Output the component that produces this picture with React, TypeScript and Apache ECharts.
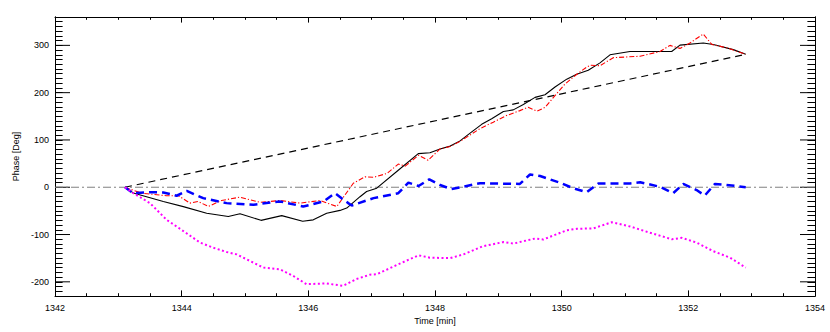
import React, { useEffect, useRef } from "react";
import * as echarts from "echarts";

const blackSolid: [number, number][] = [
  [1343.105, 0], [1343.236, -12], [1343.71, -30], [1344.026, -41], [1344.395, -55],
  [1344.736, -62], [1344.921, -56], [1345.253, -70], [1345.58, -60], [1345.911, -72],
  [1346.078, -69], [1346.29, -55], [1346.5, -49], [1346.606, -44], [1346.816, -20],
  [1346.92, -9], [1347.08, -2], [1347.42, 36], [1347.736, 71], [1347.92, 73],
  [1348.08, 81], [1348.24, 87], [1348.395, 98], [1348.58, 117], [1348.737, 133],
  [1348.895, 145], [1349.08, 160], [1349.236, 163.6], [1349.395, 175], [1349.58, 190],
  [1349.737, 195.7], [1349.895, 212], [1350.08, 228.6], [1350.237, 239], [1350.42, 247.5],
  [1350.605, 263], [1350.763, 280], [1351.079, 287], [1351.737, 287], [1351.868, 300.6],
  [1352.236, 305], [1352.394, 302], [1352.71, 291], [1352.906, 281],
];

const redDashDot: [number, number][] = [
  [1343.105, 0], [1343.37, -12.6], [1343.76, -18], [1343.95, -18], [1344.13, -33.6],
  [1344.26, -30], [1344.42, -40.7], [1344.63, -28], [1344.92, -21], [1345.24, -32],
  [1345.55, -28], [1345.87, -33.6], [1346.18, -28], [1346.45, -40.7], [1346.71, 8.4],
  [1346.895, 22], [1347.03, 21], [1347.24, 29], [1347.42, 49], [1347.53, 44.7],
  [1347.74, 67.7], [1347.89, 57], [1348.08, 81], [1348.24, 86], [1348.395, 97],
  [1348.55, 110], [1348.71, 124], [1348.92, 137.6], [1349.13, 151.6], [1349.34, 162],
  [1349.47, 169], [1349.61, 160.7], [1349.74, 169], [1349.87, 190], [1350.05, 218],
  [1350.24, 239], [1350.395, 254], [1350.45, 258], [1350.605, 257], [1350.815, 274],
  [1351.237, 277], [1351.553, 287], [1351.71, 300], [1351.868, 293.6], [1352.026, 305],
  [1352.236, 324], [1352.37, 302], [1352.606, 295], [1352.906, 281],
];

const blueDashed: [number, number][] = [
  [1343.105, 0], [1343.236, -12.6], [1343.5, -10.5], [1343.71, -11], [1343.92, -18],
  [1344.08, -7.8], [1344.34, -23], [1344.71, -33.6], [1345.13, -37], [1345.55, -30],
  [1345.92, -40.7], [1346.24, -30], [1346.42, -12.6], [1346.63, -33.6], [1346.685, -38.6],
  [1347.03, -23], [1347.42, -12.6], [1347.58, 9.7], [1347.74, 2.7], [1347.91, 16.8],
  [1348.08, 4.8], [1348.26, -4], [1348.5, 2.7], [1348.71, 8.4], [1349.08, 7.6],
  [1349.34, 7], [1349.5, 27], [1349.66, 23.7], [1349.97, 9.7], [1350.18, -2],
  [1350.395, -10.6], [1350.58, 8], [1351.08, 8], [1351.24, 10.5], [1351.55, 1],
  [1351.76, -12.6], [1351.92, 7], [1352.13, -6], [1352.26, -17.6], [1352.42, 7],
  [1352.6, 5], [1352.906, 0],
];

const magentaDotted: [number, number][] = [
  [1343.105, 0], [1343.236, -12.6], [1343.5, -33.6], [1343.76, -68.6], [1344.03, -93],
  [1344.29, -117], [1344.5, -128], [1344.71, -137], [1344.87, -142], [1345.08, -156],
  [1345.29, -170], [1345.55, -173.5], [1345.76, -187.5], [1345.97, -205], [1346.29, -203.5],
  [1346.55, -208.5], [1346.76, -194], [1346.97, -185], [1347.08, -184], [1347.42, -163],
  [1347.74, -144], [1347.92, -149], [1348.24, -150], [1348.45, -142], [1348.76, -124.6],
  [1349.08, -116], [1349.24, -119], [1349.58, -108.5], [1349.71, -110.5], [1350.08, -91],
  [1350.24, -88], [1350.5, -87], [1350.79, -74], [1351.08, -83], [1351.39, -96],
  [1351.74, -110], [1351.9, -107], [1352.13, -117], [1352.39, -135], [1352.66, -149],
  [1352.906, -170],
];

const blackDashed: [number, number][] = [
  [1343.105, 0], [1352.906, 281],
];

const zeroLine: [number, number][] = [
  [1342, 0], [1354, 0],
];

const yMajorTicks = [-200, -100, 0, 100, 200, 300];

const X_MIN = 1342;
const X_MAX = 1354;
const Y_MIN = -230;
const Y_MAX = 360;

export default function App() {
  const ref = useRef<HTMLDivElement>(null);
  useEffect(() => {
    if (!ref.current) return;
    const chart = echarts.init(ref.current, undefined, { renderer: "svg" });
    const font = "Liberation Sans, Arial, sans-serif";
    const axisLine = { show: true, onZero: false, lineStyle: { color: "#000", width: 1 } };
    const xCommon = {
      type: "value",
      min: X_MIN,
      max: X_MAX,
      interval: 2,
      splitLine: { show: false },
      axisLine,
      axisTick: { show: true, inside: true, length: 5.6, lineStyle: { color: "#000" } },
      minorTick: { show: true, splitNumber: 4, length: 2.8, lineStyle: { color: "#000" } },
    };
    const yMajor = (pos: string, showLabel: boolean) => ({
      type: "value",
      position: pos,
      min: Y_MIN,
      max: Y_MAX,
      splitNumber: 6,
      splitLine: { show: false },
      axisLine,
      axisTick: { show: false },
      axisLabel: showLabel
        ? {
            show: true, showMinLabel: false, showMaxLabel: false,
            color: "#000", fontSize: 9, fontFamily: font, margin: 6,
          }
        : { show: false },
      ...(showLabel
        ? {
            name: "Phase [Deg]",
            nameLocation: "middle",
            nameGap: 33,
            nameTextStyle: { color: "#000", fontSize: 9, fontFamily: font },
          }
        : {}),
    });
    const yMinor = (pos: string) => ({
      type: "value",
      position: pos,
      min: Y_MIN,
      max: Y_MAX,
      interval: 10,
      splitLine: { show: false },
      axisLine,
      axisTick: { show: true, inside: true, length: 7.6, lineStyle: { color: "#000" } },
      axisLabel: { show: false },
    });
    const majorTickData = yMajorTicks.map((v) => [X_MIN, v]);
    chart.setOption({
      animation: false,
      backgroundColor: "#fff",
      grid: { left: 55, right: 15, top: 17, bottom: 36, containLabel: false },
      xAxis: [
        {
          ...xCommon,
          position: "bottom",
          axisLabel: {
            show: true, color: "#000", fontSize: 9, fontFamily: font, margin: 7,
            formatter: (v: number) => String(v),
          },
          name: "Time [min]",
          nameLocation: "middle",
          nameGap: 18,
          nameTextStyle: { color: "#000", fontSize: 9, fontFamily: font },
        },
        { ...xCommon, position: "top", axisLabel: { show: false } },
      ],
      yAxis: [yMajor("left", true), yMinor("left"), yMajor("right", false), yMinor("right")],
      series: [
        {
          type: "custom",
          data: majorTickData,
          silent: true,
          renderItem: (_params: any, api: any) => {
            const v = api.value(1);
            const p = api.coord([X_MIN, v]);
            const q = api.coord([X_MAX, v]);
            const style = { stroke: "#000", lineWidth: 1 };
            return {
              type: "group",
              children: [
                { type: "line", shape: { x1: p[0], y1: p[1], x2: p[0] + 15, y2: p[1] }, style },
                { type: "line", shape: { x1: q[0] - 15, y1: q[1], x2: q[0], y2: q[1] }, style },
              ],
            };
          },
        },
        {
          type: "line", data: zeroLine, symbol: "none", silent: true,
          lineStyle: { color: "#808080", width: 1, type: [8, 3, 2, 3] },
        },
        {
          type: "line", data: blackDashed, symbol: "none",
          lineStyle: { color: "#000", width: 1.2, type: [7, 5] },
        },
        {
          type: "line", data: blackSolid, symbol: "none",
          lineStyle: { color: "#000", width: 1.1 },
        },
        {
          type: "line", data: redDashDot, symbol: "none",
          lineStyle: { color: "#ff0000", width: 1.1, type: [5, 2, 1.2, 2] },
        },
        {
          type: "line", data: blueDashed, symbol: "none",
          lineStyle: { color: "#0000ff", width: 2.5, type: [8, 5] },
        },
        {
          type: "line", data: magentaDotted, symbol: "none",
          lineStyle: { color: "#ff00ff", width: 2, type: [2, 2.5] },
        },
      ],
    });
    return () => chart.dispose();
  }, []);
  return <div ref={ref} style={{ width: 830, height: 332, position: "absolute", left: 0, top: 0 }} />;
}
